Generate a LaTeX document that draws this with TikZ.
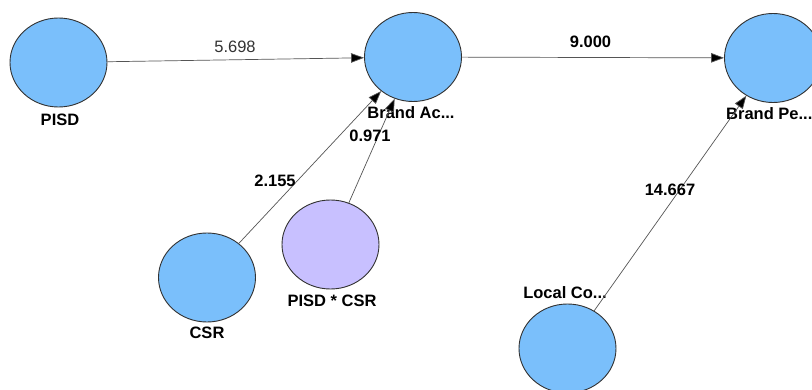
\documentclass[tikz,border=0pt]{standalone}
\usepackage{fontspec}
\setmainfont{Liberation Sans}
\usetikzlibrary{shapes.geometric,arrows.meta}
\definecolor{lvblue}{RGB}{122,191,251}
\definecolor{lvpurple}{RGB}{200,192,255}
\definecolor{lvedge}{RGB}{85,85,85}
\definecolor{lvline}{RGB}{50,50,50}
\tikzset{
  lv/.style={ellipse, draw=lvline, line width=0.9pt, fill=lvblue, minimum width=97pt, minimum height=89pt, inner sep=0pt},
  lvmod/.style={lv, fill=lvpurple},
  lvname/.style={font=\fontsize{16.5}{17}\selectfont\bfseries, inner sep=0pt},
  coef/.style={font=\fontsize{16.5}{17}\selectfont\bfseries, inner sep=0pt},
  coefplain/.style={font=\fontsize{16.5}{17}\selectfont, text=lvedge!60!black, inner sep=0pt},
  path/.style={draw=lvedge, line width=0.7pt, -{Triangle[length=13pt,width=9.5pt,fill=black]}}
}
\begin{document}
\begin{tikzpicture}[x=1pt,y=-1pt]
\clip (0,0) rectangle (812,390);
\fill[white] (0,0) rectangle (812,390);
\node[lv] (pisd) at (58.5,62.5) {};
\node[lv] (ba) at (413,57) {};
\node[lv] (bp) at (773,58) {};
\node[lv] (csr) at (207,277.5) {};
\node[lvmod] (mod) at (330.5,244.5) {};
\node[lv] (lc) at (567.5,348.5) {};

\node[lvname] (pisdl) at (60,120) {PISD};
\node[lvname] (bal) at (411,113) {Brand Ac...};
\node[lvname, anchor=west] (bpl) at (726,114) {Brand Pe...};
\node[lvname] (csrl) at (207,333) {CSR};
\node[lvname] (modl) at (332,301) {PISD * CSR};
\node[lvname] (lcl) at (565,293) {Local Co...};

\draw[path] (pisd) -- (ba);
\draw[path] (ba) -- (bp);
\draw[path] (csr) -- (ba);
\draw[path] (mod) -- (ba);
\draw[path] (lc) -- (bp);

\node[coefplain] (c1) at (235,47) {5.698};
\node[coef] (c2) at (590.5,42) {9.000};
\node[coef] (c3) at (275,181) {2.155};
\node[coef] (c4) at (370,136) {0.971};
\node[coef] (c5) at (670,190) {14.667};
\end{tikzpicture}
\end{document}
